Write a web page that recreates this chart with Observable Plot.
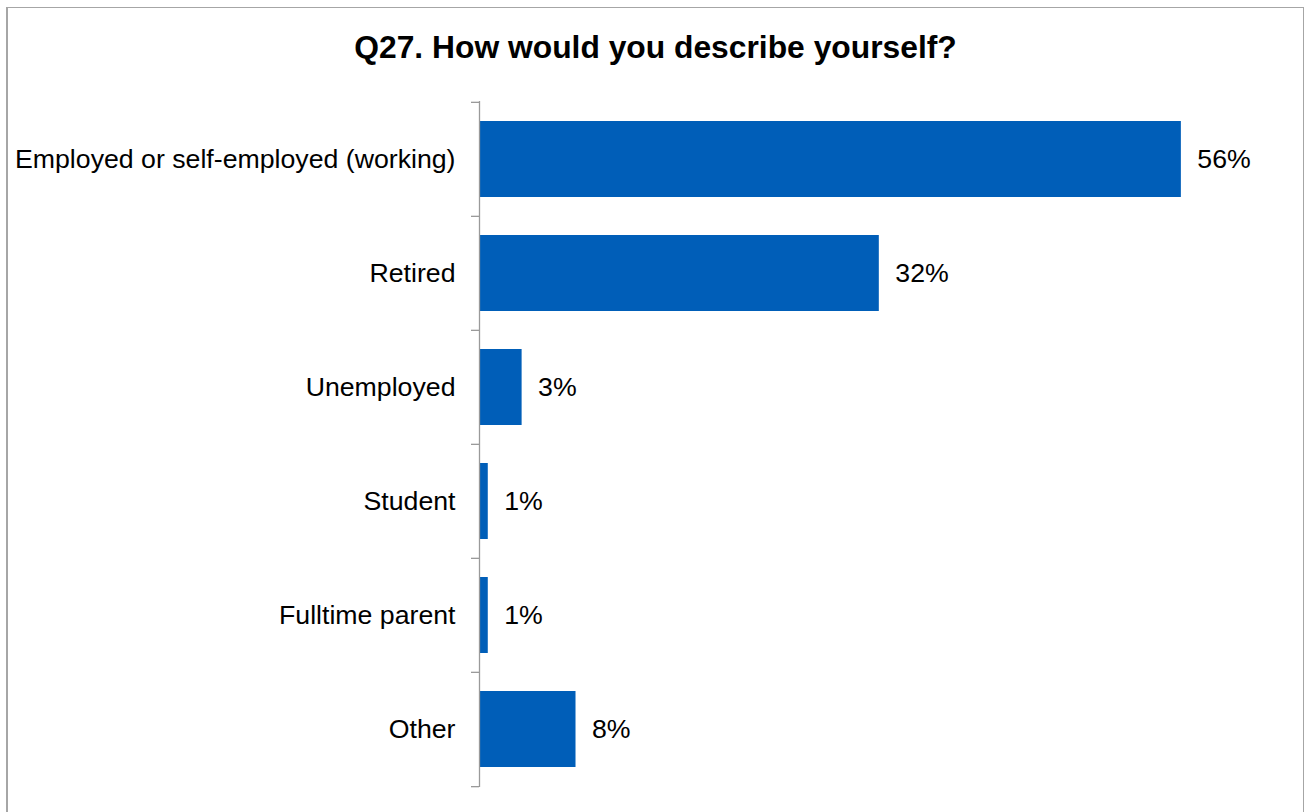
<!DOCTYPE html>
<html>
<head>
<meta charset="utf-8">
<script src="https://cdn.jsdelivr.net/npm/d3@7"></script>
<script src="https://cdn.jsdelivr.net/npm/@observablehq/plot@0.6"></script>
<style>
  html, body { margin: 0; padding: 0; background: #fff; }
  #wrap { position: relative; width: 1311px; height: 812px; overflow: hidden; font-family: "Liberation Sans", Arial, sans-serif; }
  #frame { position: absolute; left: 6px; top: 7px; width: 1298px; height: 820px; border: 1px solid #a6a6a6; border-left-width: 2px; box-sizing: border-box; }
  #title { position: absolute; left: 0; width: 1311px; top: 28px; text-align: center; font-weight: bold; font-size: 31.8px; line-height: 38px; color: #000; }
  #chart { position: absolute; left: 0; top: 0; }
</style>
</head>
<body>
<div id="wrap">
  <div id="frame"></div>
  <div id="chart"></div>
  <div id="title">Q27. How would you describe yourself?</div>
</div>
<script>
const categories = ["Employed or self-employed (working)", "Retired", "Unemployed", "Student", "Fulltime parent", "Other"];
const values = [56.0, 31.9, 3.4, 0.7, 0.7, 7.7];

const data = categories.map((c, i) => ({category: c, value: values[i]}));

const W = 1311, H = 812;
const mTop = 101, mBottom = 25, mLeft = 479, mRight = 80;
const step = (H - mTop - mBottom) / categories.length;
const fs = 26.7;
const font = '"Liberation Sans", Arial, sans-serif';

const chart = Plot.plot({
  width: W,
  height: H,
  marginTop: mTop,
  marginBottom: mBottom,
  marginLeft: mLeft,
  marginRight: mRight,
  style: {fontFamily: font, background: "transparent", overflow: "visible"},
  x: {domain: [0, 60], axis: null},
  y: {domain: categories, paddingInner: 0.332, paddingOuter: 0.166, axis: null},
  marks: [
    Plot.barX(data, {x: "value", y: "category", fill: "#005EB8"}),
    Plot.ruleX([0], {stroke: "#9a9a9a", strokeWidth: 1.3}),
    // tick marks between categories (at band boundaries)
    Plot.axisY({tickSize: 8, tickFormat: null, label: null, stroke: "#9a9a9a", dy: -step / 2, strokeWidth: 1.3}),
    Plot.axisY([categories[categories.length - 1]], {tickSize: 8, tickFormat: null, label: null, stroke: "#9a9a9a", dy: step / 2, strokeWidth: 1.3}),
    // category labels
    Plot.axisY({tickSize: 0, tickPadding: 24, label: null, fontSize: fs, fill: "#000", textAnchor: "end", lineWidth: Infinity}),
    // value labels
    Plot.text(data, {x: "value", y: "category", text: d => Math.round(d.value) + "%", dx: 16, textAnchor: "start", fontSize: fs, fill: "#000"})
  ]
});
document.getElementById("chart").appendChild(chart);
</script>
</body>
</html>
